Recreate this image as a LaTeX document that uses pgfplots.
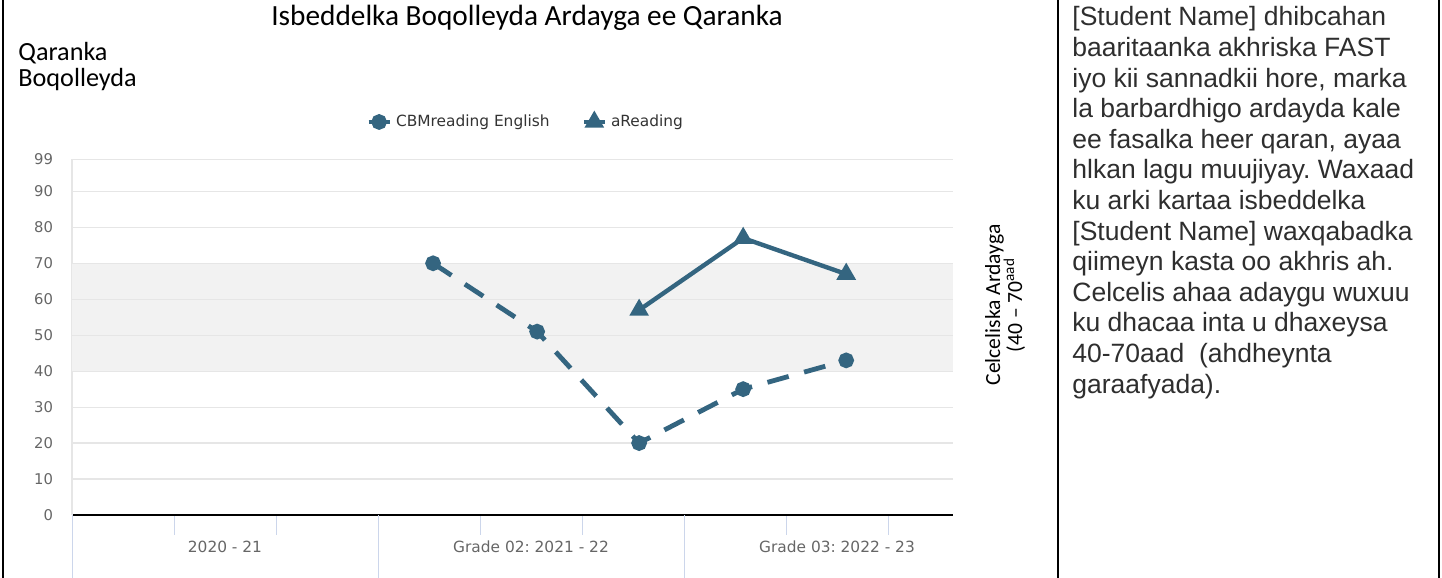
\documentclass[border=0pt]{standalone}
\usepackage{fontspec}
\setmainfont{Carlito}
\newfontfamily\arialf{Liberation Sans}
\newfontfamily\lucf{DejaVu Sans}
\usepackage{pgfplots}
\pgfplotsset{compat=1.18}
\definecolor{series}{HTML}{346580}
\definecolor{gridc}{HTML}{E6E6E6}
\definecolor{bandc}{HTML}{F2F2F2}
\definecolor{tickc}{HTML}{CCD6EB}
\definecolor{labc}{HTML}{666666}
\definecolor{legc}{HTML}{333333}
\frenchspacing
\begin{document}
\begin{tikzpicture}
\path[use as bounding box] (0pt,0pt) rectangle (721pt,289pt);
\draw[line width=1pt] (1.5pt,0pt) -- (1.5pt,289pt);
\draw[line width=1pt] (529pt,0pt) -- (529pt,289pt);
\draw[line width=1pt] (719.5pt,0pt) -- (719.5pt,289pt);

\node[anchor=base] at (263.5pt,276pt) {\fontsize{14.65}{17}\selectfont Isbeddelka Boqolleyda Ardayga ee Qaranka};
\node[anchor=base west, inner sep=0] at (9pt,258.5pt) {\fontsize{13.1}{15}\selectfont Qaranka};
\node[anchor=base west, inner sep=0] at (9pt,245.5pt) {\fontsize{13.1}{15}\selectfont Boqolleyda};

\node[rotate=90, anchor=base, inner sep=0] at (500pt,136.5pt) {\fontsize{10.8}{12}\selectfont Celceliska Ardayga};
\node[rotate=90, anchor=base, inner sep=0] at (511pt,136.5pt) {\fontsize{10.8}{12}\selectfont (40 -- 70\textsuperscript{aad}};

\foreach \t [count=\i from 0] in {{[Student Name] dhibcahan},{baaritaanka akhriska FAST},{iyo kii sannadkii hore, marka},{la barbardhigo ardayda kale},{ee fasalka heer qaran, ayaa},{hlkan lagu muujiyay. Waxaad},{ku arki kartaa isbeddelka},{[Student Name] waxqabadka},{qiimeyn kasta oo akhris ah.},{Celcelis ahaa adaygu wuxuu},{ku dhacaa inta u dhaxeysa},{40-70aad\ \ (ahdheynta},{garaafyada).}}{
  \node[anchor=base west, inner sep=0, text=black!82] at (536pt,{(276-15.3*\i)*1pt}) {\arialf\fontsize{13.25}{15.3}\selectfont\frenchspacing \t};
}

\begin{axis}[
  at={(36pt,31.5pt)}, anchor=south west, scale only axis,
  width=440.5pt, height=178pt,
  xmin=0, xmax=8.637, ymin=0, ymax=99,
  /pgf/number format/assume math mode=true,
  axis x line*=bottom, axis y line*=left,
  x axis line style={-, black, line width=1.2pt},
  y axis line style={-, color=gridc, line width=1pt},
  ytick={0,10,20,30,40,50,60,70,80,90,99},
  tick align=outside,
  major tick length=0pt,
  tick style={draw=tickc, line width=0.5pt},
  ytick style={draw=none},
  yticklabel style={font=\lucf\fontsize{7.4}{8}\selectfont, text=labc, xshift=-6pt},
  xtick={1.5,4.5,7.5},
  xticklabels={2020 - 21, Grade 02: 2021 - 22, Grade 03: 2022 - 23},
  xticklabel style={font=\lucf\fontsize{7.7}{9}\selectfont, text=labc, yshift=-9.5pt},
  extra x ticks={0,3,6},
  extra x tick labels={},
  extra x tick style={major tick length=63pt},
  minor xtick={1,2,4,5,7,8},
  minor tick length=10pt,
  legend style={at={(0.516,1.104)}, anchor=center, draw=none, fill=none,
    font=\lucf\fontsize{7.7}{9}\selectfont, text=legc, legend columns=2,
    /tikz/every even column/.append style={column sep=14pt}},
  legend image code/.code={\draw[mark repeat=2, mark phase=2, #1, solid] plot coordinates {(0pt,0pt) (5.25pt,0pt) (10.5pt,0pt)};},
]
\addplot[draw=none, fill=bandc, forget plot] coordinates {(0,40) (8.637,40) (8.637,70) (0,70) (0,40)};
\pgfplotsinvokeforeach{10,20,30,40,50,60,70,80,90,99}{
  \addplot[gridc, line width=0.6pt, forget plot] coordinates {(0,#1) (8.637,#1)};
}
\addplot[series, line width=2.4pt, dash pattern=on 11pt off 8pt, mark=*, mark size=2.7pt, mark options={solid}] coordinates {(3.54,70) (4.56,51) (5.56,20) (6.58,35) (7.59,43)};
\addlegendentry{CBMreading English}
\addplot[series, line width=2.2pt, mark=triangle*, mark size=3.5pt, mark options={solid}] coordinates {(5.56,57) (6.58,77) (7.59,67)};
\addlegendentry{aReading}
\end{axis}
\end{tikzpicture}
\end{document}
